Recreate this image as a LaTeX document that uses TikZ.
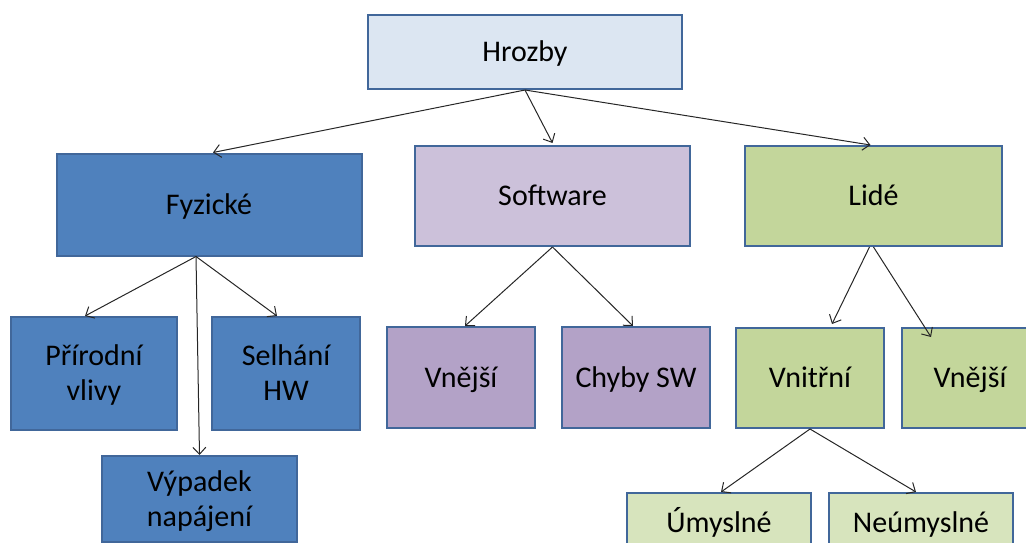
\documentclass[tikz,border=0pt]{standalone}
\usepackage{fontspec}
\setmainfont{Carlito}
\usetikzlibrary{arrows.meta}
\definecolor{bord}{HTML}{41679A}
\definecolor{cHro}{HTML}{DCE6F2}
\definecolor{cFyz}{HTML}{4F81BD}
\definecolor{cSw}{HTML}{CCC1DA}
\definecolor{cSwK}{HTML}{B3A2C7}
\definecolor{cLid}{HTML}{C3D69B}
\definecolor{cLidK}{HTML}{D7E4BD}
\begin{document}
\begin{tikzpicture}[x=1pt,y=-1pt,
  box/.style={draw=bord,line width=2pt,inner sep=0pt,align=center,
    font=\fontsize{30}{35}\selectfont,text height=19.5pt,text depth=0pt},
  two/.style={text height=54.5pt,text depth=0pt},
  arr/.style={draw=black!85,line width=1pt,
    -{Straight Barb[length=7pt,width=13pt,line width=1pt]}}]
\useasboundingbox (0,0) rectangle (1026,543);
% level 0
\node[box,fill=cHro,minimum width=314pt,minimum height=74pt] (hro) at (525,52) {Hrozby};
% level 1
\node[box,fill=cFyz,minimum width=305pt,minimum height=102pt] (fyz) at (209,204.5) {Fyzické};
\node[box,fill=cSw,minimum width=275pt,minimum height=100pt] (sw) at (552.5,196) {Software};
\node[box,fill=cLid,minimum width=257pt,minimum height=100pt] (lid) at (873.5,196) {Lidé};
% level 2
\node[box,two,fill=cFyz,minimum width=166pt,minimum height=113pt] (pri) at (94,373.5) {Přírodní\\vlivy};
\node[box,two,fill=cFyz,minimum width=148pt,minimum height=113pt] (sel) at (286,373.5) {Selhání\\HW};
\node[box,two,fill=cFyz,minimum width=195pt,minimum height=86pt] (vyp) at (199.5,499) {Výpadek\\napájení};
\node[box,fill=cSwK,minimum width=148pt,minimum height=101pt] (vne1) at (461,377.5) {Vnější};
\node[box,fill=cSwK,minimum width=148pt,minimum height=101pt] (chy) at (636,377.5) {Chyby SW};
\node[box,fill=cLid,minimum width=148pt,minimum height=100pt] (vni) at (810,378) {Vnitřní};
\node[box,fill=cLid,minimum width=136pt,minimum height=100pt] (vne2) at (970,378) {Vnější};
% level 3
\node[box,fill=cLidK,minimum width=184pt,minimum height=60pt] (um) at (719,523) {Úmyslné};
\node[box,fill=cLidK,minimum width=184pt,minimum height=60pt] (neu) at (921,523) {Neúmyslné};
% connectors
\draw[arr] (hro.south) -- ([xshift=4pt]fyz.north);
\draw[arr] (hro.south) -- ([yshift=2pt]sw.north);
\draw[arr] (hro.south) -- ([xshift=-3pt]lid.north);
\draw[arr] ([xshift=-13pt]fyz.south) -- ([xshift=-9pt]pri.north);
\draw[arr] ([xshift=-13pt]fyz.south) -- ([xshift=-9pt]sel.north);
\draw[arr] ([xshift=-13pt]fyz.south) -- ([xshift=0pt]vyp.north);
\draw[arr] (sw.south) -- ([xshift=4pt]vne1.north);
\draw[arr] (sw.south) -- ([xshift=-3pt]chy.north);
\draw[arr] ([xshift=-4pt]lid.south) -- ([xshift=22pt,yshift=3pt]vni.north);
\draw[arr] (lid.south) -- ([xshift=-39pt,yshift=-10pt]vne2.north);
\draw[arr] (vni.south) -- ([xshift=2pt]um.north);
\draw[arr] (vni.south) -- ([xshift=-5pt]neu.north);
\end{tikzpicture}
\end{document}
